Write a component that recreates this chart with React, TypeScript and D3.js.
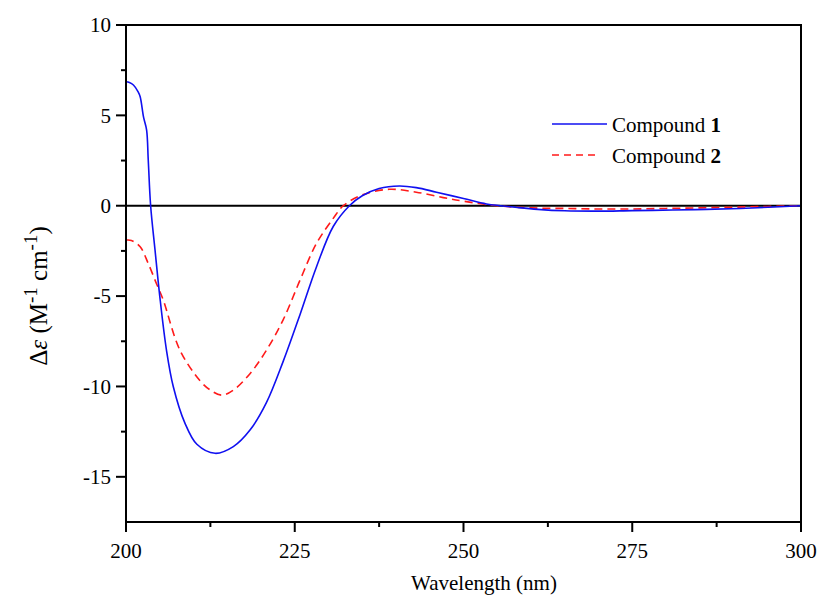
import React from 'react';
import * as d3 from 'd3';

// wavelength (nm) / delta epsilon values
const wl1 = [200, 200.5, 201.1, 201.8, 202.1, 202.6, 203.05, 203.3, 203.65, 204.3, 205, 206, 207, 208.7, 210.5, 213.2, 215.9, 218.4, 220.8, 223.3, 225.8, 228.2, 230.7, 233.1, 235, 237.5, 240.5, 243, 246, 250, 253.4, 255.5, 258, 261, 265, 270, 275, 281, 286, 291, 296, 300];
const cd1 = [6.86, 6.82, 6.68, 6.3, 6.03, 4.9, 4.2, 2.5, 0, -2.45, -5.0, -8.0, -10.0, -12.0, -13.2, -13.7, -13.33, -12.4, -10.9, -8.6, -6.0, -3.4, -1.15, 0, 0.55, 0.95, 1.09, 1.0, 0.75, 0.4, 0.1, 0, -0.1, -0.2, -0.28, -0.3, -0.27, -0.24, -0.2, -0.15, -0.07, 0];

const wl2 = [200, 200.8, 202.1, 203.3, 204.5, 205.5, 208, 211, 212.5, 214.2, 215.9, 218.4, 220.8, 223.3, 225.8, 228.2, 230.7, 232.2, 235, 239, 243, 247, 250, 255, 260, 265, 270, 275, 280, 285, 290, 295, 300];
const cd2 = [-1.9, -1.92, -2.27, -3.2, -4.3, -5.2, -8.0, -9.7, -10.2, -10.48, -10.2, -9.28, -8.0, -6.3, -4.1, -2.1, -0.7, 0, 0.6, 0.91, 0.75, 0.45, 0.25, 0, -0.12, -0.15, -0.18, -0.18, -0.15, -0.12, -0.08, -0.04, 0];

const xTicks = [200, 225, 250, 275, 300];
const xMinor = [212.5, 237.5, 262.5, 287.5];
const yTicks = [-15, -10, -5, 0, 5, 10];
const yMinor = [-12.5, -7.5, -2.5, 2.5, 7.5];

const seriesNames = ['Compound ', 'Compound '];
const seriesNums = ['1', '2'];

const W = 820, H = 604;
const left = 126, right = 801, top = 25, bottom = 522;

export default function App() {
  const x = d3.scaleLinear().domain([200, 300]).range([left, right]);
  const y = d3.scaleLinear().domain([-17.5, 10]).range([bottom, top]);

  const line = d3.line<[number, number]>()
    .x(d => x(d[0]))
    .y(d => y(d[1]))
    .curve(d3.curveCatmullRom.alpha(0.5));

  const path1 = line(wl1.map((w, i) => [w, cd1[i]]) as [number, number][]) || '';
  const path2 = line(wl2.map((w, i) => [w, cd2[i]]) as [number, number][]) || '';

  const font = "'Liberation Serif', 'Times New Roman', 'DejaVu Serif', serif";

  return (
    <svg width={W} height={H}
      style={{ position: 'absolute', left: 0, top: 0, display: 'block', background: '#fff', fontFamily: font }}>
      {/* zero line */}
      <line x1={left} x2={right} y1={y(0)} y2={y(0)} stroke="#000" strokeWidth={2} />

      <path d={path2} fill="none" stroke="#ff1a1a" strokeWidth={1.6} strokeDasharray="8,5" />
      <path d={path1} fill="none" stroke="#1010f0" strokeWidth={1.6} />

      {/* frame */}
      <rect x={left} y={top} width={right - left} height={bottom - top} fill="none" stroke="#000" strokeWidth={2} />

      {/* y ticks */}
      {yTicks.map(t => (
        <g key={'y' + t}>
          <line x1={left - 10} x2={left} y1={y(t)} y2={y(t)} stroke="#000" strokeWidth={2} />
          <text x={left - 15} y={y(t)} dy="0.35em" textAnchor="end" fontSize={21}>{t}</text>
        </g>
      ))}
      {yMinor.map(t => (
        <line key={'ym' + t} x1={left - 5} x2={left} y1={y(t)} y2={y(t)} stroke="#000" strokeWidth={2} />
      ))}

      {/* x ticks */}
      {xTicks.map(t => (
        <g key={'x' + t}>
          <line x1={x(t)} x2={x(t)} y1={bottom} y2={bottom + 10} stroke="#000" strokeWidth={2} />
          <text x={x(t)} y={558} textAnchor="middle" fontSize={21}>{t}</text>
        </g>
      ))}
      {xMinor.map(t => (
        <line key={'xm' + t} x1={x(t)} x2={x(t)} y1={bottom} y2={bottom + 5} stroke="#000" strokeWidth={2} />
      ))}

      {/* axis titles */}
      <text x={484} y={590} textAnchor="middle" fontSize={21}>Wavelength (nm)</text>
      <text transform="translate(47,296) rotate(-90)" textAnchor="middle" fontSize={25}>
        <tspan>Δ</tspan><tspan fontStyle="italic">ε</tspan><tspan> (M</tspan>
        <tspan dy={-10} fontSize={19}>-1</tspan>
        <tspan dy={10}> cm</tspan>
        <tspan dy={-10} fontSize={19}>-1</tspan>
        <tspan dy={10}>)</tspan>
      </text>

      {/* legend */}
      <line x1={552} x2={607} y1={124} y2={124} stroke="#1010f0" strokeWidth={1.6} />
      <text x={612} y={132} fontSize={21}>{seriesNames[0]}<tspan fontWeight="bold">{seriesNums[0]}</tspan></text>
      <line x1={552} x2={600} y1={155} y2={155} stroke="#ff1a1a" strokeWidth={1.6} strokeDasharray="7,5" />
      <text x={612} y={163} fontSize={21}>{seriesNames[1]}<tspan fontWeight="bold">{seriesNums[1]}</tspan></text>
    </svg>
  );
}
